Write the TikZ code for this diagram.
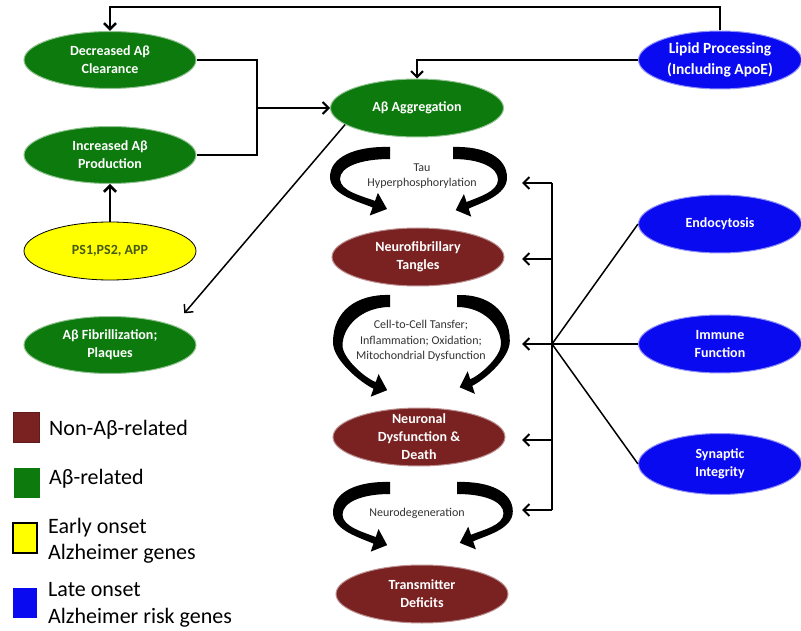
\documentclass[tikz,border=0pt]{standalone}
\usepackage{fontspec}
\setmainfont{Carlito}
\usetikzlibrary{shapes.geometric,arrows.meta}
\definecolor{agreen}{RGB}{12,122,12}
\definecolor{abrown}{RGB}{122,34,34}
\definecolor{ablue}{RGB}{10,10,240}
\definecolor{ayellow}{RGB}{255,255,0}
\definecolor{ptext}{RGB}{70,90,20}
\tikzset{
 pics/larc/.style={code={
  \pgfmathsetmacro\arcS{#1}
  \pgfmathsetmacro\arcD{57.2*(#1-1)}
  \fill (0,0) .. controls (-35,-1) and (-60,{10*\arcS}) .. (-60,{30*\arcS})
   .. controls (-60,{30*\arcS+18}) and (-30,{55+\arcD}) .. (-17.4,{60.5+\arcD})
   -- (-20.3,{68.5+\arcD}) -- (-3,{62+\arcD}) -- (-12.1,{45.9+\arcD}) -- (-15,{53.9+\arcD})
   .. controls (-28,{49+\arcD}) and (-50,{32*\arcS+12}) .. (-50,{32*\arcS})
   .. controls (-50,{20*\arcS}) and (-30,12) .. (0,12) -- cycle;
 }}
}
\begin{document}
\begin{tikzpicture}[x=1pt,y=-1pt,
 ell/.style={ellipse, inner xsep=-6pt, inner ysep=-8pt, align=center, text=white,
   font=\bfseries\fontsize{14}{18}\selectfont, line width=1pt},
 gnode/.style={ell, fill=agreen, draw=agreen!45!white, minimum width=172pt, minimum height=57pt},
 bnode/.style={ell, fill=abrown, draw=abrown!50!white, minimum width=172pt, minimum height=58pt},
 blnode/.style={ell, fill=ablue, draw=ablue!45!white, minimum width=163pt, minimum height=58pt},
 ynode/.style={ell, fill=ayellow, draw=black, line width=0.8pt, text=ptext, minimum width=172pt, minimum height=58pt},
 lbl/.style={align=center, font=\fontsize{12}{15.5}\selectfont, text=black!80},
 leg/.style={anchor=west, font=\fontsize{22}{26.5}\selectfont, align=left, inner sep=0pt},
 legsq/.style={minimum width=26pt, minimum height=30pt, inner sep=0pt},
 ln/.style={line width=2pt},
 tk/.style={line width=2.6pt},
 thn/.style={line width=1.5pt},
 tip/.style={-{Straight Barb[length=6pt,width=12pt]}},
]
\fill[white] (0,0) rectangle (801,631);
\useasboundingbox (0,0) rectangle (801,631);

% nodes
\node[gnode] (dec) at (110,60) {Decreased Aβ\\Clearance};
\node[gnode] (inc) at (110,155) {Increased Aβ\\Production};
\node[ynode] (ps) at (110,251) {PS1,PS2, APP};
\node[gnode] (fib) at (110,345) {Aβ Fibrillization;\\Plaques};
\node[gnode, minimum width=173pt, minimum height=58pt] (agg) at (417,108) {Aβ Aggregation};
\node[bnode] (nft) at (418,257) {Neurofibrillary\\Tangles};
\node[bnode] (ndd) at (419,437) {Neuronal\\Dysfunction \&\\Death};
\node[bnode] (td) at (422,594) {Transmitter\\Deficits};
\node[blnode, font=\bfseries\fontsize{15.5}{21}\selectfont] (lipid) at (720,60) {Lipid Processing\\(Including ApoE)};
\node[blnode] (endo) at (720,224) {Endocytosis};
\node[blnode] (imm) at (720,344) {Immune\\Function};
\node[blnode, minimum height=61pt] (syn) at (720,464) {Synaptic\\Integrity};

% curved arrows
\pic at (390,147) {larc=1};
\pic[xscale=-0.9] at (453,147) {larc=1.02};
\pic[xscale=0.95] at (390,295) {larc=1.58};
\pic[xscale=-0.88] at (457,295) {larc=1.53};
\pic[xscale=0.95] at (390,482) {larc=1.02};
\pic[xscale=-0.93] at (457,482) {larc=0.98};

\node[lbl] (tau) at (422,176) {Tau\\Hyperphosphorylation};
\node[lbl] (cell) at (421,341) {Cell-to-Cell Tansfer;\\Inflammation; Oxidation;\\Mitochondrial Dysfunction};
\node[lbl] (neur) at (417,513) {Neurodegeneration};

% connectors
\coordinate (topy) at (0,7);
\draw[tk, tip] (lipid.north) -- (lipid.north |- topy) -- (dec.north |- topy) -- (dec.north);
\draw[ln, tip] (lipid.west) -| (agg.north);
\coordinate (br) at (257,108);
\draw[tk] (dec.east) -| (br) |- (inc.east);
\draw[ln, tip] (br) -- (agg.west);
\draw[tk, tip] (ps.north) -- (inc.south);
\draw[thn, tip, shorten >=16pt] (agg.193) -- (fib.17);

\coordinate (j) at (552,344);
\coordinate (s1) at (552,183);
\coordinate (s2) at (552,259);
\coordinate (s4) at (552,440);
\coordinate (s5) at (552,510);
\coordinate (tipx) at (522,0);
\draw[tk] (s1) -- (s5);
\foreach \c in {s1,s2,j,s4,s5} \draw[ln, tip] (\c) -- (\c -| tipx);
\draw[thn] (j) -- (endo.west);
\draw[thn] (j) -- (imm.west);
\draw[thn] (j) -- (syn.west);

% legend
\node[legsq, fill=abrown, draw=abrown!80!black, line width=0.6pt] (lgb) at (26.5,427) {};
\node[leg] (lgbt) at (49,430) {Non-Aβ-related};
\node[legsq, fill=agreen] (lgg) at (26.5,483) {};
\node[leg] (lggt) at (49,479) {Aβ-related};
\node[legsq, minimum width=24pt, fill=ayellow, draw=black, line width=1.2pt] (lgy) at (25,538) {};
\node[leg] (lgyt) at (48,541) {Early onset\\Alzheimer genes};
\node[legsq, minimum width=24pt, fill=ablue] (lgbl) at (25,603) {};
\node[leg] (lgblt) at (48,605) {Late onset\\Alzheimer risk genes};
\end{tikzpicture}
\end{document}
